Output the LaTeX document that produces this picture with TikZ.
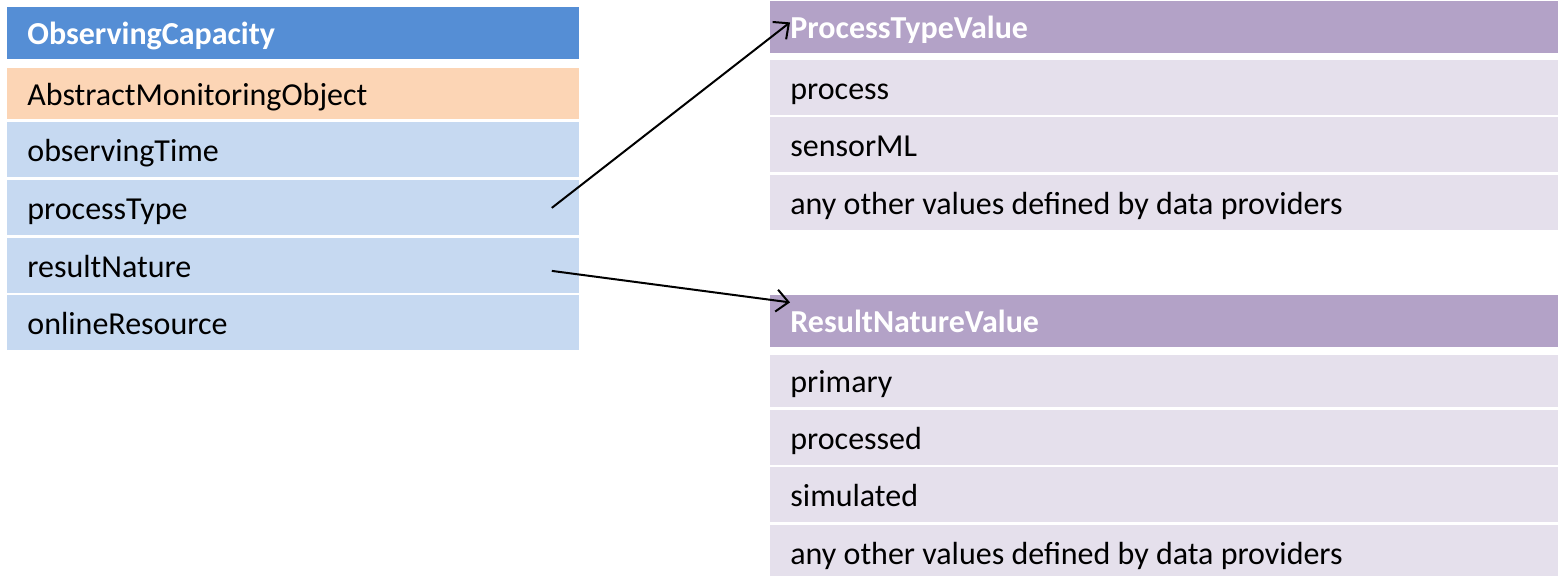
\documentclass[tikz,border=0pt]{standalone}
\usepackage{fontspec}
\setmainfont{Carlito}
\usetikzlibrary{arrows.meta}
\definecolor{hdblue}{RGB}{85,142,213}
\definecolor{ltblue}{RGB}{198,217,241}
\definecolor{ltorange}{RGB}{252,213,181}
\definecolor{hdpurple}{RGB}{179,162,199}
\definecolor{ltpurple}{RGB}{229,224,236}
\tikzset{
	cell/.style={anchor=north west,inner xsep=10pt,inner ysep=0pt,align=flush left,minimum height=27.5pt,text height=14pt,text depth=2.5pt,font=\fontsize{16}{19}\selectfont},
	lcell/.style={cell,text width=266pt,fill=ltblue},
	rcell/.style={cell,text width=374pt,fill=ltpurple},
	link/.style={-{Straight Barb[length=6pt,width=11pt]},line width=1pt},
}
\begin{document}
\begin{tikzpicture}[x=0.5pt,y=-0.5pt]%observing capacity
		\useasboundingbox (0,0) rectangle (1558,576);
		\node[lcell,fill=hdblue,text=white,minimum height=26pt,font=\fontsize{16}{19}\selectfont\bfseries] (ocap) at (7,7) {ObservingCapacity};
		\node[lcell,fill=ltorange,minimum height=25.5pt] (amo) at (7,68) {AbstractMonitoringObject};
		\node[lcell] (otime) at (7,122) {observingTime};
		\node[lcell] (ptype) at (7,180) {processType};
		\node[lcell] (rnat) at (7,238) {resultNature};
		\node[lcell] (ores) at (7,295) {onlineResource};
		% code lists
		\node[rcell,fill=hdpurple,text=white,minimum height=26pt,font=\fontsize{16}{19}\selectfont\bfseries] (ptv) at (770,1) {ProcessTypeValue};
		\node[rcell] (ptvproc) at (770,60) {process};
		\node[rcell] (ptvsml) at (770,117) {sensorML};
		\node[rcell] (ptvany) at (770,175) {any other values defined by data providers};
		\node[rcell,fill=hdpurple,text=white,minimum height=26pt,font=\fontsize{16}{19}\selectfont\bfseries] (rnv) at (770,295) {ResultNatureValue};
		\node[rcell,minimum height=26pt] (rnvprim) at (770,355) {primary};
		\node[rcell] (rnvproc) at (770,410) {processed};
		\node[rcell] (rnvsim) at (770,467) {simulated};
		\node[rcell] (rnvany) at (770,525) {any other values defined by data providers};
		\draw[link] ([xshift=-14pt]ptype.east) -- ([xshift=10pt,yshift=2.5pt]ptv.west);
		\draw[link] ([xshift=-14pt,yshift=-2.5pt]rnat.east) -- ([xshift=10pt,yshift=9.5pt]rnv.west);
		\end{tikzpicture}
\end{document}
